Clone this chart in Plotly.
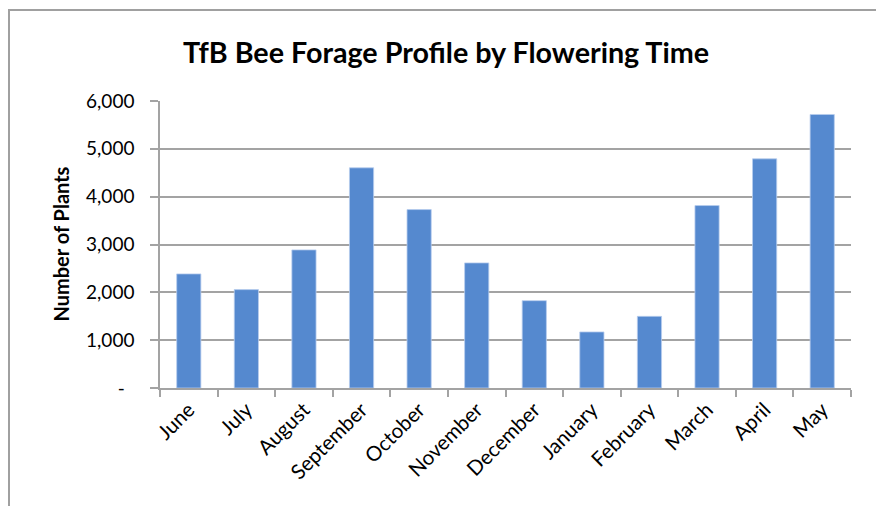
import plotly.graph_objects as go

months = ["June", "July", "August", "September", "October", "November",
          "December", "January", "February", "March", "April", "May"]
plants = [2385, 2057, 2887, 4603, 3730, 2615, 1826, 1172, 1498, 3814, 4791, 5718]
y_tickvals = [0, 1000, 2000, 3000, 4000, 5000, 6000]
y_ticktext = ["-\u00a0\u00a0", "1,000", "2,000", "3,000", "4,000", "5,000", "6,000"]

FONT = "Lato, Carlito, Calibri, sans-serif"
GRID = "#a3a3a3"

# page body has an 8px margin, so the figure is offset by 8px
W, H = 876, 498
L, T, R, B = 152, 93, 33, 118
PW, PH = W - L - R, H - T - B

fig = go.Figure(go.Bar(
    x=months, y=plants,
    marker=dict(color="#5589cf", line=dict(color="#b7cdee", width=0.8)),
))

fig.update_layout(
    width=W, height=H,
    margin=dict(l=L, r=R, t=T, b=B, autoexpand=False),
    paper_bgcolor="white", plot_bgcolor="white",
    title=dict(text="<b>TfB Bee Forage Profile by Flowering Time</b>",
               x=0.5, xref="container", y=1 - 45 / H, yref="container",
               xanchor="center", yanchor="middle",
               font=dict(family=FONT, size=28.7, color="black")),
    font=dict(family=FONT, size=18, color="black"),
    showlegend=False,
    bargap=0.58,
)

fig.update_xaxes(
    showline=True, linecolor=GRID, linewidth=1.5,
    ticks="outside", tickson="boundaries", ticklen=7, tickcolor=GRID, tickwidth=1.5,
    tickangle=-45, tickfont=dict(size=20.5),
    showgrid=False, automargin=False,
)
fig.update_yaxes(
    range=[0, 6000], tickvals=y_tickvals, ticktext=y_ticktext,
    showline=True, linecolor=GRID, linewidth=1.5,
    ticks="outside", ticklen=8, tickcolor=GRID, tickwidth=1.5,
    ticklabelstandoff=12,
    showgrid=True, gridcolor=GRID, gridwidth=1.5,
    tickfont=dict(size=19),
    zeroline=False, automargin=False,
)

fig.add_annotation(text="<b>Number of Plants</b>", textangle=-90,
                   xref="paper", yref="paper",
                   x=(52 - L) / PW, y=0.5, xanchor="center", yanchor="middle",
                   showarrow=False, font=dict(size=20, color="black"))

fig.add_shape(type="rect", xref="paper", yref="paper",
              x0=(1 - L) / PW, x1=(872 - L) / PW,
              y0=-(H + 20 - (H - B)) / PH, y1=((H - B) - 2) / PH,
              line=dict(color="#a0a0a0", width=2), fillcolor="rgba(0,0,0,0)",
              layer="below")

fig.write_html("out.html")
